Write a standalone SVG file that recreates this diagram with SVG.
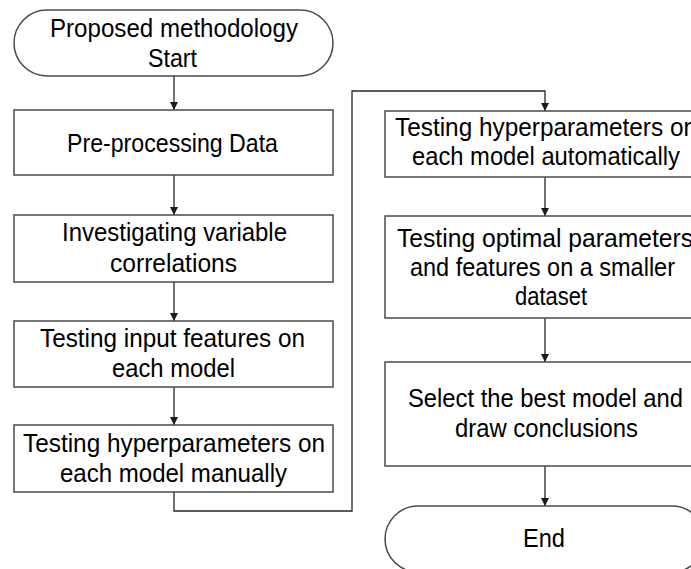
<svg xmlns="http://www.w3.org/2000/svg" width="691" height="569" viewBox="0 0 691 569">
  <style>
    .shape { fill: #ffffff; stroke: #4a4a4a; stroke-width: 1.5; }
    .label { font-family: "Liberation Sans", Arial, sans-serif; font-size: 25.5px; fill: #000000; text-anchor: middle; }
    .edge { fill: none; stroke: #262626; stroke-width: 1.3; marker-end: url(#arrow); }
  </style>
  <defs>
    <marker id="arrow" viewBox="0 0 10 10" refX="10" refY="5" markerWidth="8" markerHeight="8" markerUnits="userSpaceOnUse" orient="auto">
      <path d="M0,0 L10,5 L0,10 z" fill="#1a1a1a"/>
    </marker>
  </defs>
  <rect width="691" height="569" fill="#ffffff"/>

  <!-- connectors -->
  <g id="connectors">
    <path class="edge" d="M174,76 V110"/>
    <path class="edge" d="M174,175 V215"/>
    <path class="edge" d="M174,282 V321"/>
    <path class="edge" d="M174,387 V425"/>
    <path class="edge" d="M174,492 V511 H352 V91 H545 V111"/>
    <path class="edge" d="M545,177 V216"/>
    <path class="edge" d="M545,318 V362"/>
    <path class="edge" d="M545,466 V506"/>
  </g>

  <!-- left column -->
  <g id="start">
    <rect class="shape" x="14" y="10" width="319" height="66" rx="33" ry="33"/>
    <text class="label" x="174" y="37" textLength="248" lengthAdjust="spacingAndGlyphs">Proposed methodology</text>
    <text class="label" x="172.5" y="67" textLength="49" lengthAdjust="spacingAndGlyphs">Start</text>
  </g>
  <g id="preprocess">
    <rect class="shape" x="14" y="110" width="319" height="65"/>
    <text class="label" x="172.5" y="152" textLength="211" lengthAdjust="spacingAndGlyphs">Pre-processing Data</text>
  </g>
  <g id="correlations">
    <rect class="shape" x="14" y="215" width="319" height="67"/>
    <text class="label" x="174.5" y="241" textLength="225" lengthAdjust="spacingAndGlyphs">Investigating variable</text>
    <text class="label" x="173.5" y="272" textLength="127" lengthAdjust="spacingAndGlyphs">correlations</text>
  </g>
  <g id="features">
    <rect class="shape" x="14" y="321" width="319" height="66"/>
    <text class="label" x="172.5" y="347" textLength="265" lengthAdjust="spacingAndGlyphs">Testing input features on</text>
    <text class="label" x="173.5" y="377" textLength="123" lengthAdjust="spacingAndGlyphs">each model</text>
  </g>
  <g id="manual">
    <rect class="shape" x="14" y="425" width="319" height="67"/>
    <text class="label" x="174" y="452" textLength="302" lengthAdjust="spacingAndGlyphs">Testing hyperparameters on</text>
    <text class="label" x="173.5" y="482" textLength="227" lengthAdjust="spacingAndGlyphs">each model manually</text>
  </g>

  <!-- right column -->
  <g id="automatic">
    <rect class="shape" x="385" y="111" width="320" height="66"/>
    <text class="label" x="546" y="136" textLength="302" lengthAdjust="spacingAndGlyphs">Testing hyperparameters on</text>
    <text class="label" x="546" y="165" textLength="268" lengthAdjust="spacingAndGlyphs">each model automatically</text>
  </g>
  <g id="smaller">
    <rect class="shape" x="385" y="216" width="320" height="102"/>
    <text class="label" x="545" y="247" textLength="296" lengthAdjust="spacingAndGlyphs">Testing optimal parameters</text>
    <text class="label" x="542.5" y="276" textLength="265" lengthAdjust="spacingAndGlyphs">and features on a smaller</text>
    <text class="label" x="551" y="305" textLength="72" lengthAdjust="spacingAndGlyphs">dataset</text>
  </g>
  <g id="select">
    <rect class="shape" x="385" y="362" width="320" height="104"/>
    <text class="label" x="545.5" y="407" textLength="275" lengthAdjust="spacingAndGlyphs">Select the best model and</text>
    <text class="label" x="546.5" y="437" textLength="183" lengthAdjust="spacingAndGlyphs">draw conclusions</text>
  </g>
  <g id="end">
    <rect class="shape" x="385" y="506" width="320" height="66" rx="33" ry="33"/>
    <text class="label" x="544" y="547" textLength="42" lengthAdjust="spacingAndGlyphs">End</text>
  </g>
</svg>
